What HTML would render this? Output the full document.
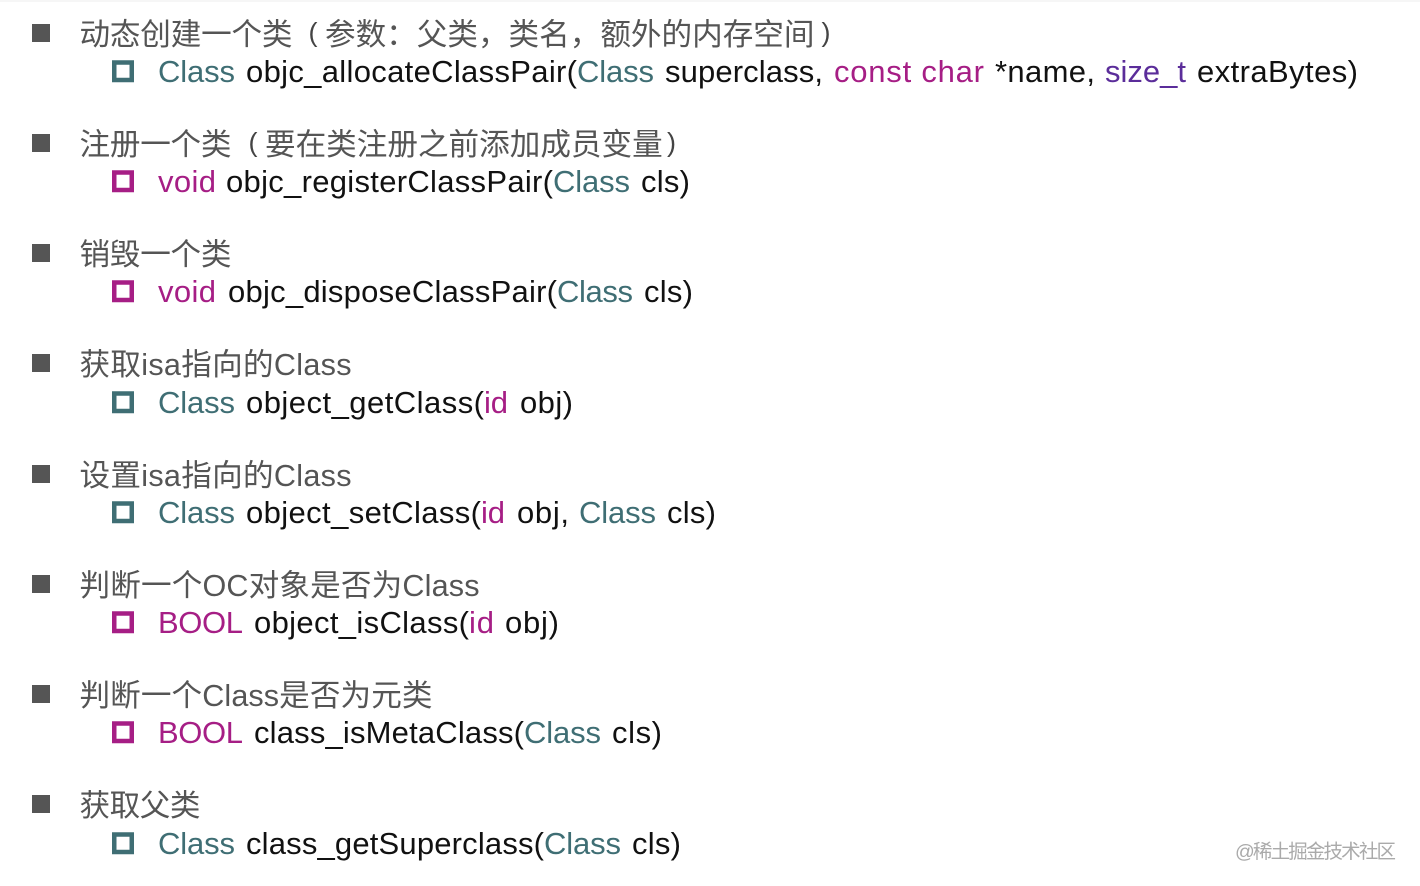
<!DOCTYPE html>
<html><head><meta charset="utf-8">
<style>
html,body{margin:0;padding:0;background:#fff;width:1420px;height:886px;overflow:hidden}
svg{display:block;position:absolute;left:0;top:0;filter:blur(.35px)}
text{font-family:"Liberation Sans","Noto Sans CJK SC",sans-serif;white-space:pre}
.h{font-size:30.6px;fill:#555}
.pa{font-size:27px;fill:#444}
.c{font-size:31px;fill:#111}
.t{fill:#3f6e74}.m{fill:#a61e85}.p{fill:#5b2d9a}
.w{font-size:19.5px;fill:#aaa}
</style></head><body>
<svg width="1420" height="886" viewBox="0 0 1420 886" xmlns="http://www.w3.org/2000/svg">
<rect x="0" y="0" width="1420" height="2" fill="#f6f6f6"/>
<g fill="#555">
<rect x="32" y="24" width="18" height="18"/><rect x="32" y="134" width="18" height="18"/><rect x="32" y="244" width="18" height="18"/><rect x="32" y="354" width="18" height="18"/><rect x="32" y="465" width="18" height="18"/><rect x="32" y="575" width="18" height="18"/><rect x="32" y="685" width="18" height="18"/><rect x="32" y="795" width="18" height="18"/>
</g>
<g fill="none" stroke-width="4.5">
<rect x="114.250" y="62.500" width="17.500" height="17.500" stroke="#3f6e74"/>
<rect x="114.250" y="172.500" width="17.500" height="17.500" stroke="#a61e85"/>
<rect x="114.250" y="282.500" width="17.500" height="17.500" stroke="#a61e85"/>
<rect x="114.250" y="393.500" width="17.500" height="17.500" stroke="#3f6e74"/>
<rect x="114.250" y="503.500" width="17.500" height="17.500" stroke="#3f6e74"/>
<rect x="114.250" y="613.500" width="17.500" height="17.500" stroke="#a61e85"/>
<rect x="114.250" y="723.500" width="17.500" height="17.500" stroke="#a61e85"/>
<rect x="114.250" y="834.500" width="17.500" height="17.500" stroke="#3f6e74"/>
</g>

<text class="h" x="79.500" y="45" textLength="213">动态创建一个类</text>
<text class="pa" x="308.500" y="41.500">(</text>
<text class="h" x="325" y="45">参数：父类，类名，额外的内存空间</text>
<text class="pa" x="821.500" y="41.500">)</text>
<text class="c t" x="158" y="82" textLength="77">Class</text>
<text class="c" x="246" y="82" textLength="331">objc_allocateClassPair(</text>
<text class="c t" x="577" y="82" textLength="77">Class</text>
<text class="c" x="665" y="82" textLength="158">superclass,</text>
<text class="c m" x="834" y="82" textLength="150">const char</text>
<text class="c" x="995" y="82" textLength="100">*name,</text>
<text class="c p" x="1105" y="82" textLength="81">size_t</text>
<text class="c" x="1197" y="82" textLength="161">extraBytes)</text>

<text class="h" x="79.500" y="155" textLength="152">注册一个类</text>
<text class="pa" x="248.500" y="151.500">(</text>
<text class="h" x="265" y="155">要在类注册之前添加成员变量</text>
<text class="pa" x="667" y="151.500">)</text>
<text class="c m" x="158" y="192" textLength="58">void</text>
<text class="c" x="226" y="192" textLength="327">objc_registerClassPair(</text>
<text class="c t" x="553" y="192" textLength="77">Class</text>
<text class="c" x="641" y="192" textLength="49">cls)</text>

<text class="h" x="79.500" y="265" textLength="152">销毁一个类</text>
<text class="c m" x="158" y="302" textLength="58">void</text>
<text class="c" x="228" y="302" textLength="329">objc_disposeClassPair(</text>
<text class="c t" x="557" y="302" textLength="76">Class</text>
<text class="c" x="644" y="302" textLength="49">cls)</text>

<text class="h" x="79.500" y="375" textLength="272">获取isa指向的Class</text>
<text class="c t" x="158" y="413" textLength="77">Class</text>
<text class="c" x="246" y="413" textLength="238">object_getClass(</text>
<text class="c m" x="484" y="413" textLength="24">id</text>
<text class="c" x="520" y="413" textLength="53">obj)</text>

<text class="h" x="79.500" y="486" textLength="272">设置isa指向的Class</text>
<text class="c t" x="158" y="523" textLength="77">Class</text>
<text class="c" x="246" y="523" textLength="235">object_setClass(</text>
<text class="c m" x="481" y="523" textLength="24">id</text>
<text class="c" x="517" y="523" textLength="52">obj,</text>
<text class="c t" x="579" y="523" textLength="77">Class</text>
<text class="c" x="667" y="523" textLength="49">cls)</text>

<text class="h" x="79.500" y="596" textLength="400">判断一个OC对象是否为Class</text>
<text class="c m" x="158" y="633" textLength="85">BOOL</text>
<text class="c" x="254" y="633" textLength="215">object_isClass(</text>
<text class="c m" x="469" y="633" textLength="25">id</text>
<text class="c" x="505" y="633" textLength="54">obj)</text>

<text class="h" x="79.500" y="706" textLength="353">判断一个Class是否为元类</text>
<text class="c m" x="158" y="743" textLength="85">BOOL</text>
<text class="c" x="254" y="743" textLength="270">class_isMetaClass(</text>
<text class="c t" x="524" y="743" textLength="77">Class</text>
<text class="c" x="612" y="743" textLength="50">cls)</text>

<text class="h" x="79.500" y="816" textLength="121">获取父类</text>
<text class="c t" x="158" y="854" textLength="77">Class</text>
<text class="c" x="246" y="854" textLength="298">class_getSuperclass(</text>
<text class="c t" x="544" y="854" textLength="77">Class</text>
<text class="c" x="632" y="854" textLength="49">cls)</text>

<text class="w" x="1235" y="858" textLength="161">@稀土掘金技术社区</text>
</svg>
</body></html>
